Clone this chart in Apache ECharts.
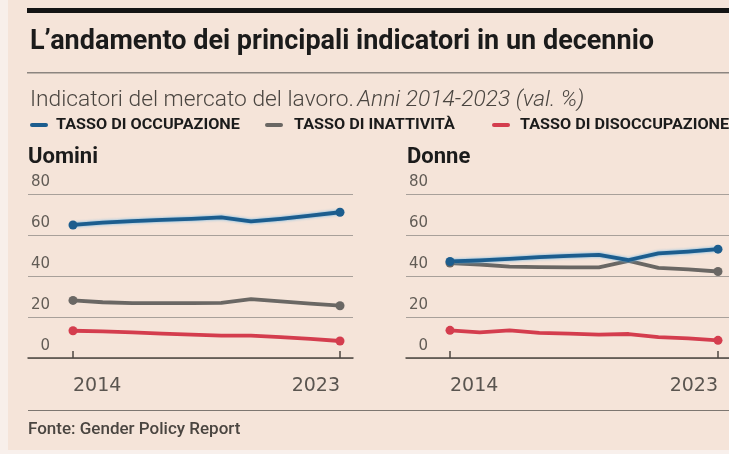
<!DOCTYPE html>
<html><head><meta charset="utf-8">
<script src="https://cdn.jsdelivr.net/npm/echarts@6/dist/echarts.min.js"></script>
<style>html,body{margin:0;padding:0;background:#f5e4d9;} #c{width:729px;height:454px;}</style>
</head><body><div id="c"></div>
<script>
// ---- data ----
const years = ['2014','2015','2016','2017','2018','2019','2020','2021','2022','2023'];
const seriesNames = ['TASSO DI OCCUPAZIONE', 'TASSO DI INATTIVITÀ', 'TASSO DI DISOCCUPAZIONE'];
const uominiOccupazione   = [64.9, 66.0, 66.8, 67.4, 67.9, 68.6, 66.6, 67.9, 69.5, 71.1];
const uominiInattivita    = [28.1, 27.2, 26.8, 26.8, 26.8, 26.9, 28.7, 27.6, 26.5, 25.5];
const uominiDisoccupazione= [13.3, 13.0, 12.5, 11.9, 11.4, 10.9, 10.9, 10.2, 9.3, 8.3];
const donneOccupazione    = [47.1, 47.6, 48.4, 49.2, 49.8, 50.3, 47.8, 51.0, 51.9, 53.1];
const donneInattivita     = [46.3, 45.6, 44.6, 44.3, 44.2, 44.2, 47.4, 44.0, 43.2, 42.2];
const donneDisoccupazione = [13.5, 12.5, 13.5, 12.3, 11.9, 11.4, 11.7, 10.2, 9.6, 8.6];
const yMin = 0, yMax = 80, yStep = 20;
const panelTitles = ['Uomini', 'Donne'];
const chartTitle = 'L\u2019andamento dei principali indicatori in un decennio';
const subtitleMain = 'Indicatori del mercato del lavoro.';
const subtitleItalic = 'Anni 2014-2023 (val. %)';
const sourceText = 'Fonte: Gender Policy Report';

// ---- style ----
const colors = ['#1c5d8e', '#6a6764', '#d43d4e'];
const gridTop = 194, gridH = 164;
const panels = [
  {frameLeft: 28, frameWidth: 325, dataLeft: 73, dataWidth: 267, titleX: 28},
  {frameLeft: 406, frameWidth: 323, dataLeft: 450, dataWidth: 268, titleX: 407}
];
const panelData = [
  [uominiOccupazione, uominiInattivita, uominiDisoccupazione],
  [donneOccupazione, donneInattivita, donneDisoccupazione]
];

const grid = [], xAxis = [], yAxis = [], series = [];
panels.forEach((p, i) => {
  const f = grid.length;
  grid.push({left: p.frameLeft, top: gridTop, width: p.frameWidth, height: gridH});
  grid.push({left: p.dataLeft, top: gridTop, width: p.dataWidth, height: gridH});
  xAxis.push({gridIndex: f, type: 'value', min: 0, max: 1, axisLine: {show: true, lineStyle: {color: '#4d4742', width: 1.5}},
    axisTick: {show: false}, axisLabel: {show: false}, splitLine: {show: false}});
  xAxis.push({gridIndex: f + 1, type: 'category', data: years, boundaryGap: false,
    axisLine: {show: false},
    axisTick: {show: true, inside: true, length: 7, interval: 8, lineStyle: {color: '#4d4742', width: 1.5}},
    axisLabel: {interval: 8, margin: 19, color: '#5a5550', fontSize: 19, fontFamily: 'DejaVu Sans',
      alignMinLabel: 'left', alignMaxLabel: 'right'},
    splitLine: {show: false}});
  yAxis.push({gridIndex: f, type: 'value', min: yMin, max: yMax, interval: yStep,
    axisLine: {show: false}, axisTick: {show: false},
    axisLabel: {inside: true, align: 'right', margin: 22, verticalAlign: 'bottom', padding: [0, 0, 4, 0],
      color: '#625c56', fontSize: 15, fontFamily: 'DejaVu Sans'},
    splitLine: {lineStyle: {color: '#a8a09a', width: 1}}});
  yAxis.push({gridIndex: f + 1, type: 'value', min: yMin, max: yMax, show: false});
  [1, 2, 0].forEach(k => {
    series.push({
      name: seriesNames[k], type: 'line', xAxisIndex: f + 1, yAxisIndex: f + 1,
      data: panelData[i][k], symbol: 'circle',
      symbolSize: (v, prm) => (prm.dataIndex === 0 || prm.dataIndex === years.length - 1) ? 9 : 0,
      showSymbol: true, showAllSymbol: true,
      itemStyle: {color: colors[k]},
      lineStyle: Object.assign({color: colors[k], width: 3.8, cap: 'round', join: 'round'},
        k === 0 ? {shadowColor: 'rgba(90,175,230,0.9)', shadowBlur: 3} : {}),
      emphasis: {disabled: true}, z: 3
    });
  });
});

const legendItems = [
  {dash: 30, text: 56},
  {dash: 265, text: 294},
  {dash: 492, text: 520}
];
const graphic = [
  {type: 'rect', shape: {x: 0, y: 0, width: 8, height: 454}, style: {fill: '#f8efea'}, silent: true},
  {type: 'rect', shape: {x: 0, y: 450, width: 729, height: 4}, style: {fill: '#f8f0ec'}, silent: true},
  {type: 'rect', shape: {x: 27, y: 8, width: 702, height: 5}, style: {fill: '#141414'}, silent: true},
  {type: 'text', x: 30, y: 42, style: {text: chartTitle, font: 'bold 27px Roboto', fill: '#1b1b1b', verticalAlign: 'middle'}},
  {type: 'rect', shape: {x: 27, y: 72, width: 702, height: 1.5}, style: {fill: '#8c8580'}, silent: true},
  {type: 'text', x: 30, y: 100, scaleX: 1.035, style: {text: '{a|' + subtitleMain + '} {b|' + subtitleItalic + '}', verticalAlign: 'middle',
    rich: {a: {font: '300 22px Roboto', fill: '#4a4540'}, b: {font: 'italic 300 22px Roboto', fill: '#4a4540'}}}},
  {type: 'text', x: panels[0].titleX, y: 157, style: {text: panelTitles[0], font: 'bold 22px Roboto', fill: '#1b1b1b', verticalAlign: 'middle'}},
  {type: 'text', x: panels[1].titleX, y: 157, style: {text: panelTitles[1], font: 'bold 22px Roboto', fill: '#1b1b1b', verticalAlign: 'middle'}},
  {type: 'rect', shape: {x: 28, y: 410, width: 701, height: 1}, style: {fill: '#7d7670'}, silent: true},
  {type: 'text', x: 28, y: 430, style: {text: sourceText, font: '500 17px Roboto', fill: '#4a4540', verticalAlign: 'middle'}}
];
legendItems.forEach((l, k) => {
  graphic.push({type: 'rect', shape: {x: l.dash, y: 123, width: 18, height: 4, r: 2}, style: {fill: colors[k]}, silent: true});
  graphic.push({type: 'text', x: l.text, y: 125, scaleX: 1.08, style: {text: seriesNames[k], font: 'bold 15px Roboto', fill: '#1b1b1b', verticalAlign: 'middle'}});
});

const chart = echarts.init(document.getElementById('c'), null, {renderer: 'canvas'});
chart.setOption({
  backgroundColor: '#f5e4d9',
  animation: false,
  grid, xAxis, yAxis, series, graphic
});
</script></body></html>
